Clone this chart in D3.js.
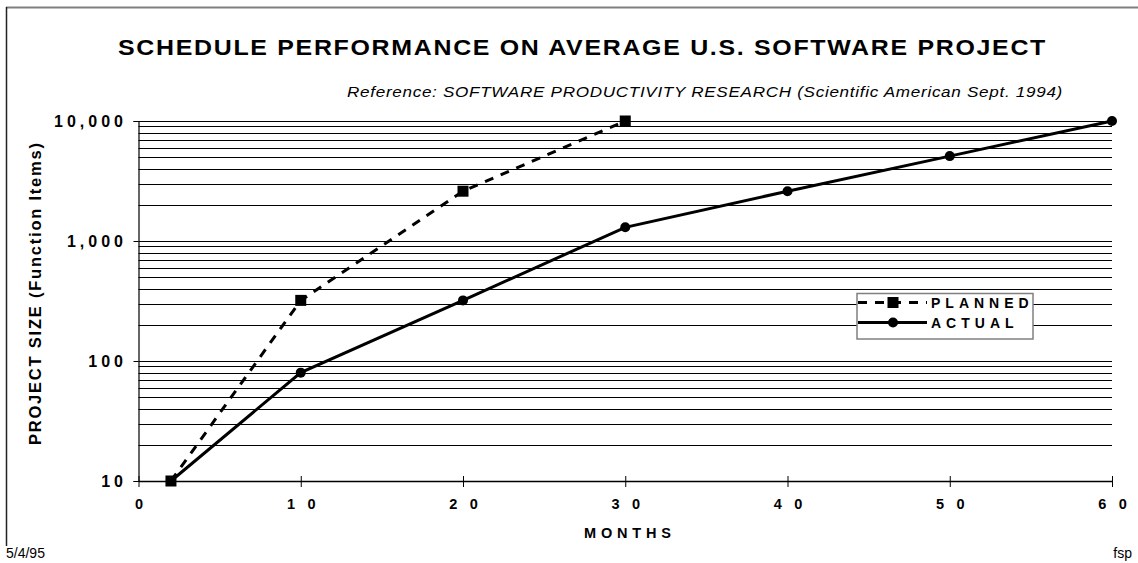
<!DOCTYPE html>
<html>
<head>
<meta charset="utf-8">
<script src="https://cdn.jsdelivr.net/npm/d3@7"></script>
<style>
  html, body { margin: 0; padding: 0; background: #fff; }
  svg { display: block; font-family: "Liberation Sans", Arial, sans-serif; }
</style>
</head>
<body>
<svg id="chart" width="1138" height="563"></svg>
<script>
// ---- data ----
const monthsPlanned = [2, 10, 20, 30];
const sizePlanned   = [10, 320, 2600, 10000];
const monthsActual  = [2, 10, 20, 30, 40, 50, 60];
const sizeActual    = [10, 80, 320, 1300, 2600, 5100, 10000];
const xTicks = [0, 10, 20, 30, 40, 50, 60];
const xTickLabels = ["0", "10", "20", "30", "40", "50", "60"];
const yTicks = [10, 100, 1000, 10000];
const yTickLabels = ["10", "100", "1,000", "10,000"];
const seriesNames = ["PLANNED", "ACTUAL"];
const titleText = "SCHEDULE PERFORMANCE ON AVERAGE U.S. SOFTWARE PROJECT";
const subtitleText = "Reference: SOFTWARE PRODUCTIVITY RESEARCH  (Scientific American Sept. 1994)";
const xTitle = "MONTHS";
const yTitle = "PROJECT SIZE  (Function  Items)";
const dateText = "5/4/95";
const authorText = "fsp";

const svg = d3.select("#chart");
const x = d3.scaleLinear().domain([0, 60]).range([138.5, 1112]);
const y = d3.scaleLog().domain([10, 10000]).range([481, 121]);

// frame
svg.append("line").attr("x1", 6).attr("x2", 1138).attr("y1", 7.5).attr("y2", 7.5)
  .attr("stroke", "#808080").attr("stroke-width", 2);
svg.append("line").attr("x1", 6.5).attr("x2", 6.5).attr("y1", 7).attr("y2", 546)
  .attr("stroke", "#222").attr("stroke-width", 1.5);

// title
svg.append("text").attr("x", 118).attr("y", 55)
  .attr("font-size", 22).attr("font-weight", "bold").attr("letter-spacing", 1.5)
  .attr("textLength", 929).attr("lengthAdjust", "spacingAndGlyphs")
  .text(titleText);
svg.append("text").attr("x", 347).attr("y", 97)
  .attr("font-size", 14.5).attr("font-style", "italic").attr("letter-spacing", 0.6)
  .attr("textLength", 716).attr("lengthAdjust", "spacingAndGlyphs")
  .text(subtitleText);

// gridlines (every minor log tick)
const gridVals = [];
[10, 100, 1000].forEach(d => { for (let m = 1; m <= 9; m++) gridVals.push(d * m); });
gridVals.push(10000);
svg.append("g").selectAll("line").data(gridVals).join("line")
  .attr("x1", x(0)).attr("x2", x(60))
  .attr("y1", d => Math.round(y(d)) + 0.5).attr("y2", d => Math.round(y(d)) + 0.5)
  .attr("stroke", "#000").attr("stroke-width", 1);

// y axis
const yAxis = svg.append("g").attr("transform", `translate(${x(0)},0)`)
  .call(d3.axisLeft(y).tickValues(yTicks).tickSize(5).tickFormat((d, i) => yTickLabels[i]));
yAxis.select(".domain").attr("stroke", "#000").attr("stroke-width", 1.2);
yAxis.selectAll(".tick line").attr("stroke", "#000");
yAxis.selectAll(".tick text")
  .attr("font-family", "Liberation Sans, Arial, sans-serif")
  .attr("font-size", 16).attr("font-weight", "bold").attr("fill", "#000")
  .attr("letter-spacing", 4).attr("x", -11.5);

// x axis
const xAxis = svg.append("g").attr("transform", `translate(0,${y(10)})`)
  .call(d3.axisBottom(x).tickValues(xTicks).tickSizeInner(6).tickSizeOuter(0)
    .tickFormat((d, i) => xTickLabels[i]));
xAxis.select(".domain").attr("stroke", "#000").attr("stroke-width", 1.5);
xAxis.selectAll(".tick line").attr("y1", -5).attr("y2", 6).attr("stroke", "#000");
xAxis.selectAll(".tick text")
  .attr("font-family", "Liberation Sans, Arial, sans-serif")
  .attr("font-size", 14.5).attr("font-weight", "bold").attr("fill", "#000")
  .attr("letter-spacing", 12.5).attr("dx", 6.25).attr("y", 18).attr("dy", "0.71em");

// axis titles
svg.append("text").attr("x", 584).attr("y", 538)
  .attr("font-size", 14.5).attr("font-weight", "bold")
  .attr("textLength", 87).attr("lengthAdjust", "spacing")
  .text(xTitle);
svg.append("text")
  .attr("transform", "translate(41,445) rotate(-90)")
  .attr("font-size", 16.5).attr("font-weight", "bold")
  .attr("textLength", 302).attr("lengthAdjust", "spacing")
  .text(yTitle);

// lines
const planned = monthsPlanned.map((m, i) => [m, sizePlanned[i]]);
const actual = monthsActual.map((m, i) => [m, sizeActual[i]]);
const line = d3.line().x(d => x(d[0])).y(d => y(d[1]));
svg.append("path").attr("d", line(planned)).attr("fill", "none")
  .attr("stroke", "#000").attr("stroke-width", 3).attr("stroke-dasharray", "9,8");
svg.append("path").attr("d", line(actual)).attr("fill", "none")
  .attr("stroke", "#000").attr("stroke-width", 3);

svg.append("g").selectAll("rect").data(planned).join("rect")
  .attr("x", d => x(d[0]) - 5.5).attr("y", d => y(d[1]) - 5.5)
  .attr("width", 11).attr("height", 11).attr("fill", "#000");
svg.append("g").selectAll("circle").data(actual).join("circle")
  .attr("cx", d => x(d[0])).attr("cy", d => y(d[1])).attr("r", 5).attr("fill", "#000");

// legend
const lg = svg.append("g");
lg.append("rect").attr("x", 857).attr("y", 293.5).attr("width", 176).attr("height", 45.5)
  .attr("fill", "#fff").attr("stroke", "#808080").attr("stroke-width", 1.5);
lg.append("line").attr("x1", 858).attr("x2", 927).attr("y1", 302.5).attr("y2", 302.5)
  .attr("stroke", "#000").attr("stroke-width", 3).attr("stroke-dasharray", "9,8");
lg.append("rect").attr("x", 887.5).attr("y", 297).attr("width", 11).attr("height", 11).attr("fill", "#000");
lg.append("line").attr("x1", 858).attr("x2", 927).attr("y1", 322.5).attr("y2", 322.5)
  .attr("stroke", "#000").attr("stroke-width", 3);
lg.append("circle").attr("cx", 893).attr("cy", 322.5).attr("r", 5).attr("fill", "#000");
lg.selectAll("text.lbl").data(seriesNames).join("text").attr("class", "lbl")
  .attr("x", 931).attr("y", (d, i) => 307.5 + i * 20)
  .attr("font-size", 14).attr("font-weight", "bold").attr("letter-spacing", 5)
  .text(d => d);

// footer
svg.append("text").attr("x", 6).attr("y", 558).attr("font-size", 14).text(dateText);
svg.append("text").attr("x", 1132).attr("y", 558).attr("font-size", 14)
  .attr("text-anchor", "end").text(authorText);
</script>
</body>
</html>
